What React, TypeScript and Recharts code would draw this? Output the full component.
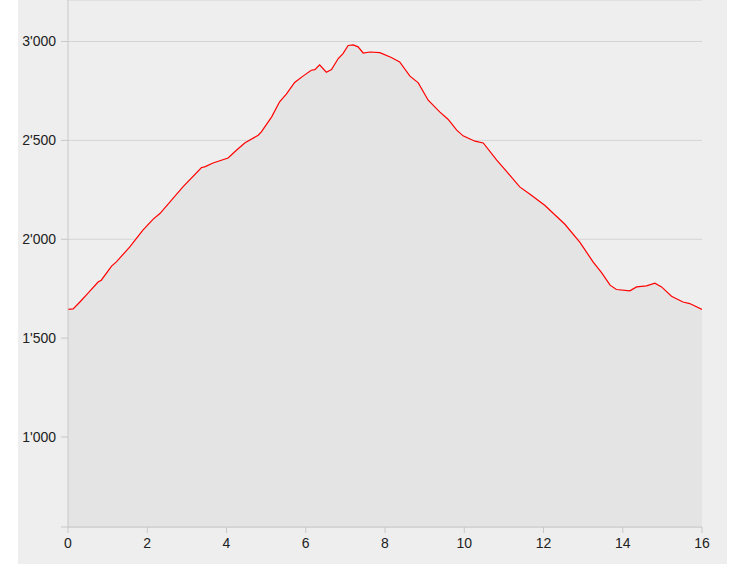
import { AreaChart, Area, XAxis, YAxis, CartesianGrid } from 'recharts';

// distance in km, elevation in m
const distanceKm = [
  0, 0.13, 0.3, 0.5, 0.76, 0.84, 1.1, 1.22, 1.56, 1.89, 2.15, 2.32, 2.9, 3.37, 3.45, 3.66,
  4.04, 4.25, 4.46, 4.8, 4.88, 5.14, 5.34, 5.51, 5.72, 5.93, 6.14, 6.23, 6.35, 6.52, 6.65,
  6.82, 6.94, 7.07, 7.2, 7.32, 7.45, 7.62, 7.87, 8.16, 8.37, 8.63, 8.84, 9.09, 9.38, 9.59,
  9.81, 9.97, 10.27, 10.48, 10.82, 11.11, 11.4, 11.66, 12.03, 12.54, 12.92, 13.25, 13.47,
  13.68, 13.84, 14.18, 14.35, 14.6, 14.81, 14.98, 15.23, 15.52, 15.69, 16,
];
const elevationM = [
  1645, 1648, 1683, 1726, 1784, 1793, 1864, 1886, 1961, 2046, 2102, 2130, 2265, 2363, 2366, 2386,
  2411, 2450, 2487, 2526, 2543, 2619, 2695, 2734, 2793, 2825, 2855, 2858, 2882, 2845, 2858,
  2914, 2939, 2980, 2983, 2973, 2942, 2947, 2944, 2919, 2897, 2825, 2791, 2703, 2644, 2607,
  2552, 2523, 2496, 2487, 2400, 2333, 2265, 2228, 2172, 2076, 1984, 1886, 1830,
  1768, 1746, 1739, 1759, 1764, 1778, 1759, 1712, 1683, 1675, 1645,
];
const xTicks = [0, 2, 4, 6, 8, 10, 12, 14, 16];
const yTicks = [545, 1000, 1500, 2000, 2500, 3000];
const yDomain = [545, 3210];

const data = distanceKm.map((d, i) => ({ km: d, ele: elevationM[i] }));

function formatThousands(v: number): string {
  if (v === yDomain[0]) return '';
  const s = String(Math.round(v));
  return s.replace(/\B(?=(\d{3})+(?!\d))/g, "'");
}

const tickStyle = { fontSize: 14, fill: '#222', fontFamily: '"Liberation Sans", Arial, sans-serif' };

export default function App() {
  return (
    <div style={{ position: 'absolute', left: 0, top: 0, width: 742, height: 578, background: '#fff' }}>
      <div style={{ position: 'absolute', left: 18, top: 0, width: 709, height: 564, background: '#eeeeee' }} />
      <div style={{ position: 'absolute', left: 0, top: 0 }}>
        <AreaChart width={742} height={578} data={data} margin={{ top: 0, right: 40, left: 18, bottom: 0 }}>
          <CartesianGrid vertical={false} stroke="#d4d4d4" />
          <XAxis
            dataKey="km"
            type="number"
            domain={[0, 16]}
            ticks={xTicks}
            height={51}
            tickSize={6}
            tickMargin={5}
            tick={tickStyle}
            stroke="#c8c8c8"
            allowDataOverflow
          />
          <YAxis
            type="number"
            domain={yDomain}
            ticks={yTicks}
            width={50}
            tickSize={7}
            tickMargin={5}
            tick={tickStyle}
            tickFormatter={formatThousands}
            stroke="#c8c8c8"
            allowDataOverflow
          />
          <Area
            type="linear"
            dataKey="ele"
            stroke="#ff0000"
            strokeWidth={1.2}
            fill="#e4e4e4"
            fillOpacity={1}
            baseValue={yDomain[0]}
            dot={false}
            activeDot={false}
            isAnimationActive={false}
          />
        </AreaChart>
      </div>
    </div>
  );
}
